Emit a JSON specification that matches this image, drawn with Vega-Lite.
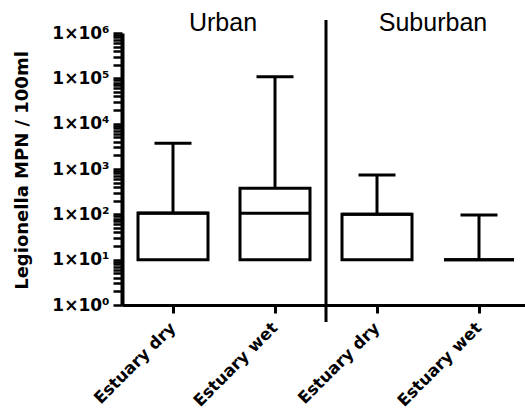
{
  "$schema": "https://vega.github.io/schema/vega-lite/v6.json",
  "width": 403,
  "height": 272,
  "autosize": {"type": "none"},
  "padding": {"left": 122, "top": 33, "right": 0, "bottom": 108},
  "background": "white",
  "config": {"view": {"stroke": null}},
  "data": {"values": [
    {"cat": "Urban dry", "min": 10, "q1": 10, "median": 105, "q3": 107, "max": 3700},
    {"cat": "Urban wet", "min": 10, "q1": 10, "median": 105, "q3": 375, "max": 108000},
    {"cat": "Suburban dry", "min": 10, "q1": 10, "median": 100, "q3": 100, "max": 740},
    {"cat": "Suburban wet", "min": 10, "q1": 10, "median": 10, "q3": 10, "max": 97}
  ]},
  "layer": [
    {
      "mark": {"type": "rule", "color": "black", "strokeWidth": 3},
      "encoding": {
        "x": {"field": "cat", "type": "nominal",
          "scale": {"domain": ["Urban dry", "Urban wet", "Suburban dry", "Suburban wet"], "range": [0, 408], "paddingInner": 0, "paddingOuter": 0},
          "axis": {"title": null, "domainColor": "black", "domainWidth": 3, "tickColor": "black", "tickWidth": 3, "tickSize": 8,
            "labelAngle": -45, "labelAlign": "right", "labelBaseline": "middle", "labelFont": "DejaVu Sans", "labelFontWeight": "bold", "labelFontSize": 16.5, "labelColor": "black", "labelPadding": 12,
            "labelExpr": "'Estuary ' + split(datum.label, ' ')[1]"}},
        "y": {"field": "q3", "type": "quantitative",
          "scale": {"type": "log", "domain": [1, 1000000], "nice": false},
          "axis": {
            "values": [1,2,3,4,5,6,7,8,9,10,20,30,40,50,60,70,80,90,100,200,300,400,500,600,700,800,900,1000,2000,3000,4000,5000,6000,7000,8000,9000,10000,20000,30000,40000,50000,60000,70000,80000,90000,100000,200000,300000,400000,500000,600000,700000,800000,900000,1000000],
            "grid": false,
            "domainColor": "black", "domainWidth": 4,
            "tickColor": "black",
            "tickSize": 9,
            "tickWidth": 2.5,
            "labelOverlap": false,
            "labelFont": "DejaVu Sans", "labelFontWeight": "bold", "labelFontSize": 17, "labelColor": "black", "labelPadding": 4,
            "labelExpr": "abs(log(datum.value)/LN10 - round(log(datum.value)/LN10)) < 0.001 ? '1×10' + ['⁰','¹','²','³','⁴','⁵','⁶'][round(log(datum.value)/LN10)] : ''",
            "title": "Legionella MPN / 100ml",
            "titleFont": "DejaVu Sans", "titleFontWeight": "bold", "titleFontSize": 18, "titleColor": "black",
            "titleAngle": 270, "titleAlign": "center", "titleBaseline": "middle", "titleX": -100, "titleY": 137
          }},
        "y2": {"field": "max"}
      }
    },
    {
      "mark": {"type": "tick", "color": "black", "opacity": 1, "thickness": 3, "size": 37},
      "encoding": {
        "x": {"field": "cat", "type": "nominal"},
        "y": {"field": "max", "type": "quantitative"}
      }
    },
    {
      "mark": {"type": "bar", "fill": "white", "stroke": "black", "strokeWidth": 3, "size": 70, "opacity": 1},
      "encoding": {
        "x": {"field": "cat", "type": "nominal"},
        "y": {"field": "q1", "type": "quantitative"},
        "y2": {"field": "q3"}
      }
    },
    {
      "mark": {"type": "tick", "color": "black", "opacity": 1, "thickness": 3, "size": 70},
      "encoding": {
        "x": {"field": "cat", "type": "nominal"},
        "y": {"field": "median", "type": "quantitative"}
      }
    },
    {
      "data": {"values": [{"cat": "Suburban dry", "lo": 0.42, "hi": 1940000}]},
      "mark": {"type": "rule", "color": "black", "strokeWidth": 3},
      "encoding": {
        "x": {"field": "cat", "type": "nominal", "bandPosition": 0},
        "y": {"field": "lo", "type": "quantitative"},
        "y2": {"field": "hi"}
      }
    },
    {
      "data": {"values": [{"cat": "Urban dry", "label": "Urban", "pos": 1100000}]},
      "mark": {"type": "text", "font": "Liberation Sans", "fontSize": 25, "color": "black", "align": "center", "baseline": "alphabetic", "dx": -1},
      "encoding": {
        "x": {"field": "cat", "type": "nominal", "bandPosition": 1},
        "y": {"field": "pos", "type": "quantitative"},
        "text": {"field": "label"}
      }
    },
    {
      "data": {"values": [{"cat": "Suburban dry", "label": "Suburban", "pos": 1100000}]},
      "mark": {"type": "text", "font": "Liberation Sans", "fontSize": 25, "color": "black", "align": "center", "baseline": "alphabetic", "dx": 5},
      "encoding": {
        "x": {"field": "cat", "type": "nominal", "bandPosition": 1},
        "y": {"field": "pos", "type": "quantitative"},
        "text": {"field": "label"}
      }
    }
  ]
}
